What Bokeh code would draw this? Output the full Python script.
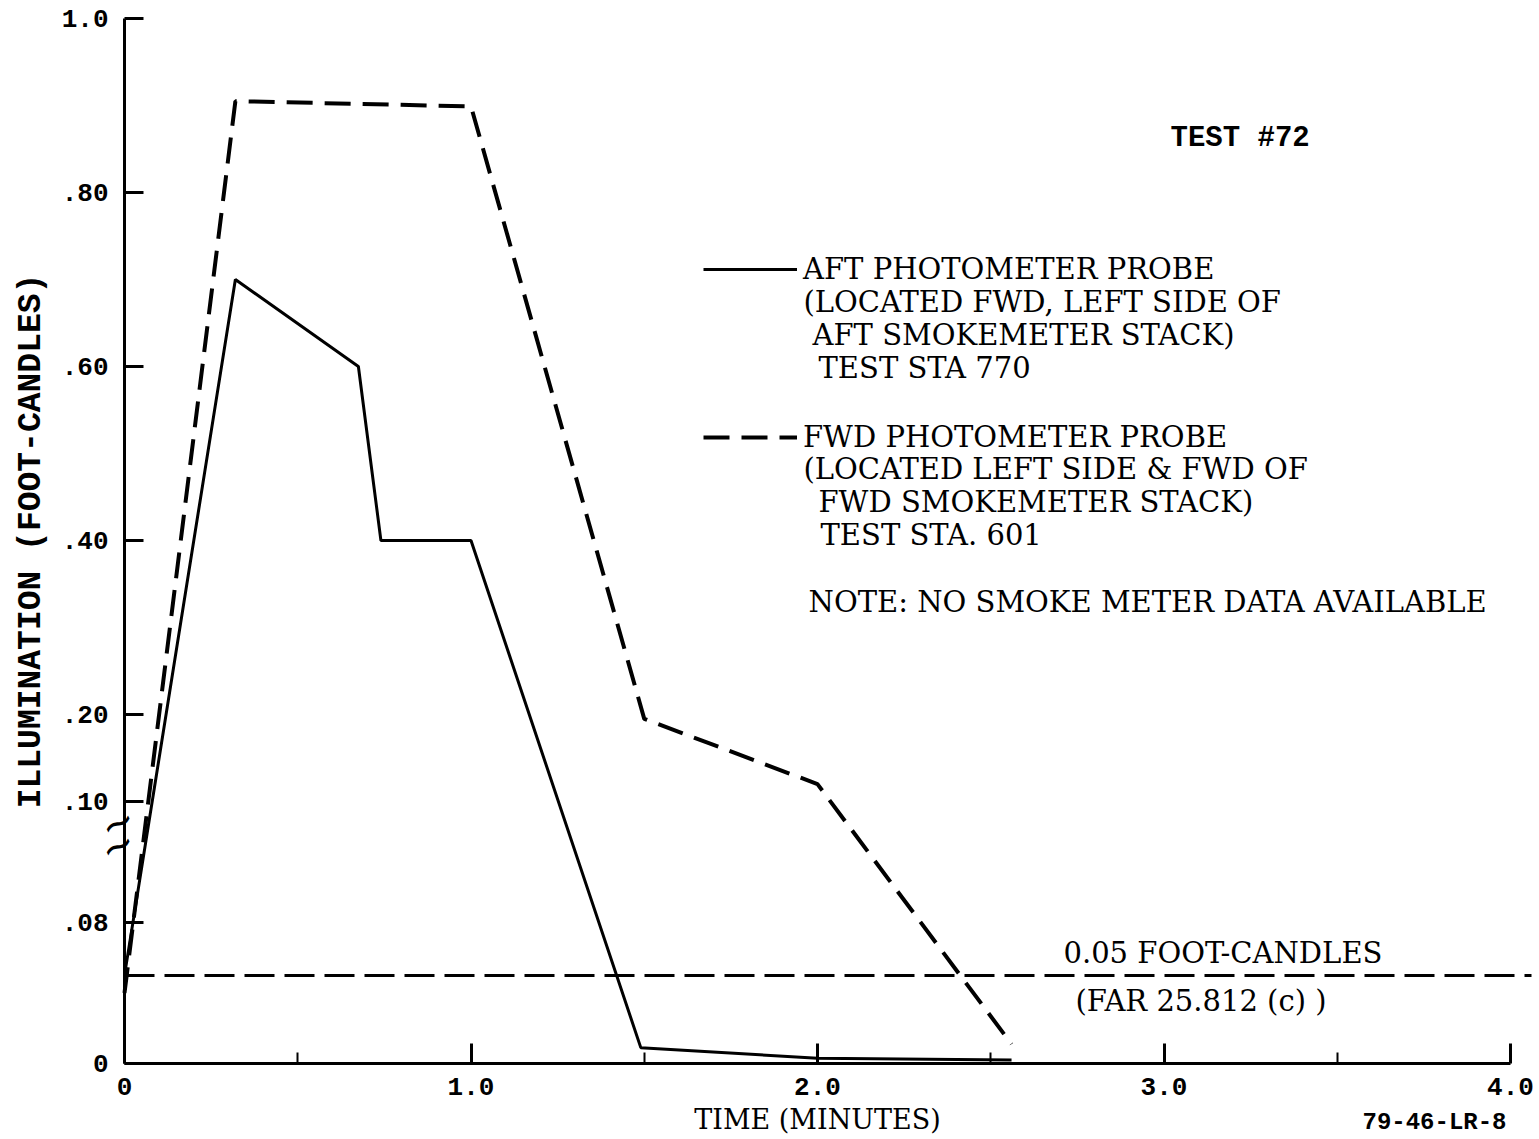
from bokeh.plotting import figure
from bokeh.models import FixedTicker, Label, Range1d, Legend, LegendItem
from bokeh.embed import file_html
from bokeh.resources import INLINE

# ---------------- data ----------------
time_aft = [0.0, 0.32, 0.675, 0.74, 1.0, 1.49, 2.0, 2.56]
illum_aft = [0.05, 0.70, 0.60, 0.40, 0.40, 0.009, 0.003, 0.002]

time_fwd = [0.0, 0.32, 1.0, 1.5, 2.0, 2.56]
illum_fwd = [0.04, 0.905, 0.899, 0.195, 0.12, 0.011]

threshold = 0.05

x_tick_values = [0, 1, 2, 3, 4]
x_tick_labels = ["0", "1.0", "2.0", "3.0", "4.0"]
x_minor_ticks = [0.5, 1.5, 2.5, 3.5]
y_tick_values = [0, 0.08, 0.10, 0.20, 0.40, 0.60, 0.80, 1.0]
y_tick_labels = ["0", ".08", ".10", ".20", ".40", ".60", ".80", "1.0"]

# broken axis: 0..0.1 on an expanded scale, 0.1..1.0 on a compressed scale
LOW_SCALE = 1762.5
HIGH_BASE = 262.0
HIGH_SCALE = 870.0


def to_disp(v):
    if v < 0.1:
        return round(v * LOW_SCALE, 3)
    return round(HIGH_BASE + (v - 0.1) * HIGH_SCALE, 3)


W, H = 1539, 1139
ORIGIN_X, ORIGIN_Y = 124, 1063      # canvas pixel of (0, 0)
PX_PER_MIN = 346.5
X_END = (1531 - ORIGIN_X) / PX_PER_MIN

p = figure(width=W, height=H, output_backend="svg", toolbar_location=None,
           x_range=Range1d(-ORIGIN_X / PX_PER_MIN, (W - ORIGIN_X) / PX_PER_MIN),
           y_range=Range1d(-(H - ORIGIN_Y), ORIGIN_Y),
           min_border_left=0, min_border_right=0,
           min_border_top=0, min_border_bottom=0)
p.outline_line_color = None
p.xgrid.visible = False
p.ygrid.visible = False
p.background_fill_color = "white"
p.border_fill_color = "white"

MONO = "Liberation Mono"
SERIF = "DejaVu Serif"


def px(xp, yp):
    return (xp - ORIGIN_X) / PX_PER_MIN, ORIGIN_Y - yp


# ---------------- axes ----------------
xa = p.xaxis[0]
xa.fixed_location = 0
xa.ticker = FixedTicker(ticks=x_tick_values, minor_ticks=x_minor_ticks)
xa.major_label_overrides = {v: s for v, s in zip(x_tick_values, x_tick_labels)}
xa.bounds = (0, 4)
xa.axis_line_width = 3
xa.major_tick_line_width = 3
xa.minor_tick_line_width = 2
xa.major_tick_in = 20
xa.major_tick_out = 0
xa.minor_tick_in = 11
xa.minor_tick_out = 0
xa.major_label_standoff = 14
xa.major_label_text_font = MONO
xa.major_label_text_font_style = "bold"
xa.major_label_text_font_size = "26px"
xa.major_label_text_color = "black"
xa.axis_label = "TIME (MINUTES)"
xa.axis_label_text_font = SERIF
xa.axis_label_text_font_style = "normal"
xa.axis_label_text_font_size = "27px"
xa.axis_label_standoff = 6
xa.axis_label_text_color = "black"

ya = p.yaxis[0]
ya.fixed_location = 0
y_disp_ticks = [to_disp(v) for v in y_tick_values]
ya.ticker = FixedTicker(ticks=y_disp_ticks, minor_ticks=[])
ya.major_label_overrides = {d: s for d, s in zip(y_disp_ticks, y_tick_labels)}
ya.bounds = (0, to_disp(1.0))
ya.axis_line_width = 3
ya.major_tick_line_width = 3
ya.major_tick_in = 19
ya.major_tick_out = 0
ya.minor_tick_line_color = None
ya.major_label_standoff = 16
ya.major_label_text_font = MONO
ya.major_label_text_font_style = "bold"
ya.major_label_text_font_size = "26px"
ya.major_label_text_color = "black"
ya.axis_label = "ILLUMINATION (FOOT-CANDLES)"
ya.axis_label_text_font = MONO
ya.axis_label_text_font_style = "bold"
ya.axis_label_text_font_size = "33px"
ya.axis_label_standoff = 9
ya.axis_label_text_color = "black"

# axis break marks
for yb in (822, 845):
    bx, by = px(117, yb)
    p.add_layout(Label(x=bx, y=by, text="~", text_font="DejaVu Sans",
                       text_font_size="40px", text_align="center",
                       text_baseline="middle", angle=0.45, text_color="black"))

# ---------------- threshold line ----------------
p.line([0, X_END], [to_disp(threshold)] * 2,
       line_color="black", line_width=3, line_dash="30 10")

# ---------------- series ----------------
r_aft = p.line(time_aft, [to_disp(v) for v in illum_aft],
               line_color="black", line_width=3)
r_fwd = p.line(time_fwd, [to_disp(v) for v in illum_fwd],
               line_color="black", line_width=4, line_dash="26 12")

legend = Legend(items=[LegendItem(label="AFT PHOTOMETER PROBE", renderers=[r_aft]),
                       LegendItem(label="FWD PHOTOMETER PROBE", renderers=[r_fwd])],
                location=(703, 685), orientation="vertical",
                glyph_width=94, glyph_height=28, label_standoff=6,
                spacing=134, padding=0, margin=0,
                border_line_color=None, background_fill_alpha=0,
                label_text_font=SERIF, label_text_font_size="29px",
                label_text_color="black", label_height=28)
p.add_layout(legend)


def put(text, xp, yp, font=SERIF, size="29px", style="normal"):
    lx, ly = px(xp, yp)
    p.add_layout(Label(x=lx, y=ly, text=text, text_font=font,
                       text_font_size=size, text_font_style=style,
                       text_align="left", text_baseline="middle",
                       text_color="black"))


put("(LOCATED FWD, LEFT SIDE OF", 803, 301)
put("AFT SMOKEMETER STACK)", 812, 334)
put("TEST STA 770", 818, 367)
put("(LOCATED LEFT SIDE & FWD OF", 803, 468)
put("FWD SMOKEMETER STACK)", 818, 501)
put("TEST STA. 601", 820, 534)
put("NOTE: NO SMOKE METER DATA AVAILABLE", 808, 601)
put("TEST #72", 1170, 138, font=MONO, size="29px", style="bold")
put("0.05 FOOT-CANDLES", 1063, 952)
put("(FAR 25.812 (c) )", 1075, 1000)
put("79-46-LR-8", 1362, 1122, font=MONO, size="24px", style="bold")

open("out.html", "w").write(file_html(p, INLINE))
